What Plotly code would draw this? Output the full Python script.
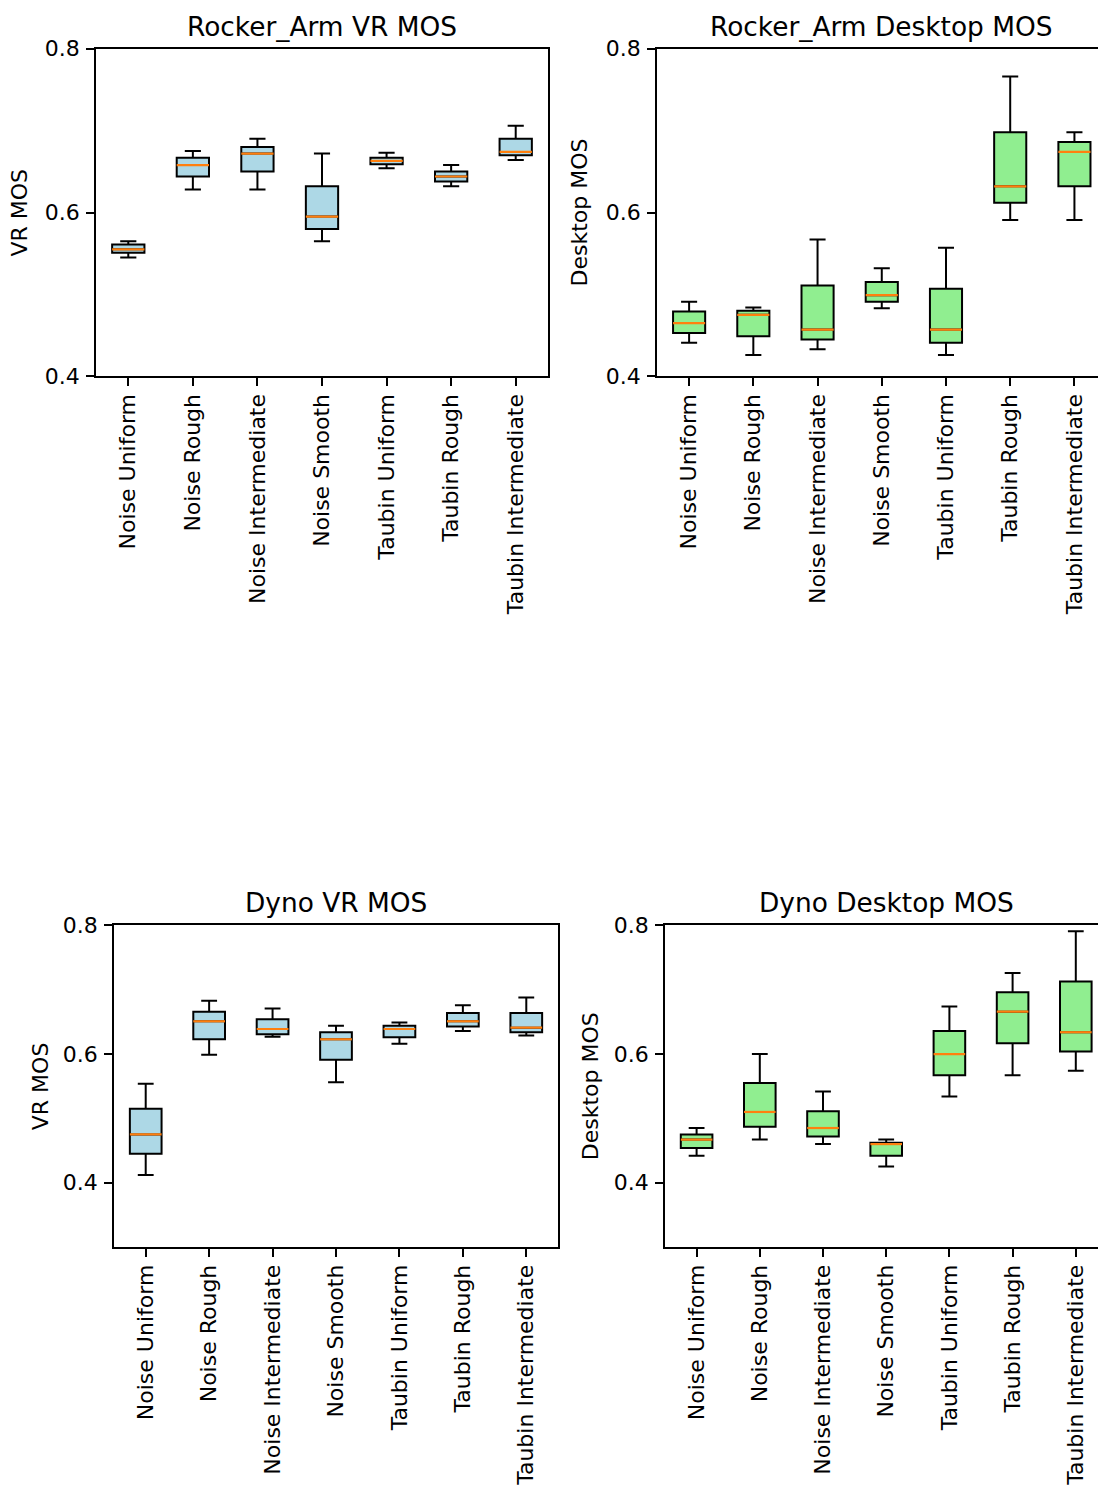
import plotly.graph_objects as go

W, H = 1098, 1487

categories = ["Noise Uniform", "Noise Rough", "Noise Intermediate", "Noise Smooth",
              "Taubin Uniform", "Taubin Rough", "Taubin Intermediate"]
positions = [1, 2, 3, 4, 5, 6, 7]

# Rocker_Arm, VR ratings
rocker_vr_low = [0.545, 0.628, 0.628, 0.565, 0.654, 0.632, 0.664]
rocker_vr_q1 = [0.551, 0.644, 0.650, 0.580, 0.659, 0.638, 0.670]
rocker_vr_med = [0.555, 0.658, 0.672, 0.595, 0.663, 0.644, 0.674]
rocker_vr_q3 = [0.561, 0.667, 0.680, 0.632, 0.667, 0.650, 0.690]
rocker_vr_high = [0.565, 0.675, 0.690, 0.672, 0.673, 0.658, 0.706]

# Rocker_Arm, desktop ratings
rocker_dt_low = [0.441, 0.426, 0.433, 0.483, 0.426, 0.591, 0.591]
rocker_dt_q1 = [0.453, 0.449, 0.445, 0.491, 0.441, 0.612, 0.632]
rocker_dt_med = [0.465, 0.475, 0.457, 0.499, 0.457, 0.632, 0.674]
rocker_dt_q3 = [0.479, 0.480, 0.511, 0.515, 0.507, 0.698, 0.686]
rocker_dt_high = [0.491, 0.484, 0.567, 0.532, 0.557, 0.766, 0.698]

# Dyno, VR ratings
dyno_vr_low = [0.412, 0.599, 0.627, 0.556, 0.616, 0.636, 0.629]
dyno_vr_q1 = [0.445, 0.623, 0.631, 0.591, 0.626, 0.643, 0.634]
dyno_vr_med = [0.475, 0.651, 0.639, 0.623, 0.639, 0.651, 0.641]
dyno_vr_q3 = [0.515, 0.666, 0.654, 0.634, 0.644, 0.664, 0.664]
dyno_vr_high = [0.554, 0.683, 0.671, 0.644, 0.649, 0.676, 0.688]

# Dyno, desktop ratings
dyno_dt_low = [0.442, 0.467, 0.460, 0.425, 0.534, 0.567, 0.574]
dyno_dt_q1 = [0.454, 0.487, 0.472, 0.442, 0.567, 0.617, 0.604]
dyno_dt_med = [0.467, 0.510, 0.485, 0.460, 0.600, 0.666, 0.634]
dyno_dt_q3 = [0.475, 0.555, 0.511, 0.462, 0.636, 0.696, 0.713]
dyno_dt_high = [0.485, 0.600, 0.542, 0.467, 0.674, 0.726, 0.791]

VR_FILL = "#add8e6"
DT_FILL = "#90ee90"
MEDIAN_COLOR = "#ff7f0e"
FONT = "DejaVu Sans"


def px_x(v):
    return v / W


def px_y(v):
    return 1 - v / H


fig = go.Figure()

# axis suffix, data, fill, x-domain px, y-domain px (top, bottom), x range, y range,
# title, y label, title centre x, y-label centre x
panels = [
    ("", (rocker_vr_low, rocker_vr_q1, rocker_vr_med, rocker_vr_q3, rocker_vr_high), VR_FILL,
     (96, 548), (37.4, 370.5), [0.5, 7.5], [0.4, 0.8], "Rocker_Arm VR MOS", "VR MOS", 322, 20),
    ("2", (rocker_dt_low, rocker_dt_q1, rocker_dt_med, rocker_dt_q3, rocker_dt_high), DT_FILL,
     (657, 1098), (37.4, 370.5), [0.5, 0.5 + 441 / 64.22], [0.4, 0.8], "Rocker_Arm Desktop MOS", "Desktop MOS", 881, 580),
    ("3", (dyno_vr_low, dyno_vr_q1, dyno_vr_med, dyno_vr_q3, dyno_vr_high), VR_FILL,
     (114, 558), (929.1, 1256.1), [0.5, 7.5], [0.3, 0.8], "Dyno VR MOS", "VR MOS", 336, 40),
    ("4", (dyno_dt_low, dyno_dt_q1, dyno_dt_med, dyno_dt_q3, dyno_dt_high), DT_FILL,
     (665, 1098), (929.1, 1256.1), [0.5, 0.5 + 433 / 63.2], [0.3, 0.8], "Dyno Desktop MOS", "Desktop MOS", 886, 590),
]

annotations = []
layout_axes = {}

for suffix, (lo, q1, med, q3, hi), fill, xd, yd, xr, yr, title, ylab, tx, lx in panels:
    xa = "x" + suffix
    ya = "y" + suffix
    fig.add_trace(go.Box(
        x=positions, q1=q1, median=med, q3=q3, lowerfence=lo, upperfence=hi,
        width=0.5, whiskerwidth=0.5, boxpoints=False,
        fillcolor=fill, line=dict(color="black", width=2),
        xaxis=xa, yaxis=ya, showlegend=False, hoverinfo="skip",
    ))
    mx, my = [], []
    for p, m in zip(positions, med):
        mx += [p - 0.25, p + 0.25, None]
        my += [m, m, None]
    fig.add_trace(go.Scatter(
        x=mx, y=my, mode="lines", line=dict(color=MEDIAN_COLOR, width=2.2),
        xaxis=xa, yaxis=ya, showlegend=False, hoverinfo="skip",
    ))

    right_cut = xd[1] >= W
    layout_axes["xaxis" + suffix] = dict(
        domain=[px_x(xd[0]), px_x(xd[1])], range=xr, anchor=ya,
        tickmode="array", tickvals=positions, ticktext=categories, tickangle=-90,
        ticks="outside", ticklen=8, tickwidth=1.8, tickcolor="black",
        ticklabelstandoff=-1,
        showline=True, linecolor="black", linewidth=1.8, mirror=True,
        showgrid=False, zeroline=False,
        tickfont=dict(family=FONT, size=22, color="black"),
    )
    layout_axes["yaxis" + suffix] = dict(
        domain=[px_y(yd[1]), px_y(yd[0])], range=yr, anchor=xa,
        tickmode="array", tickvals=[0.4, 0.6, 0.8], ticktext=["0.4", "0.6", "0.8"],
        ticks="outside", ticklen=8, tickwidth=1.8, tickcolor="black",
        ticklabelstandoff=2,
        showline=True, linecolor="black", linewidth=1.8, mirror=not right_cut,
        showgrid=False, zeroline=False,
        tickfont=dict(family=FONT, size=22, color="black"),
    )
    annotations.append(dict(
        text=title, x=px_x(tx), y=px_y(yd[0] - 23), xref="paper", yref="paper",
        xanchor="center", yanchor="middle", showarrow=False,
        font=dict(family=FONT, size=26.4, color="black"),
    ))
    annotations.append(dict(
        text=ylab, x=px_x(lx), y=px_y((yd[0] + yd[1]) / 2), xref="paper", yref="paper",
        xanchor="center", yanchor="middle", textangle=-90, showarrow=False,
        font=dict(family=FONT, size=22, color="black"),
    ))

fig.update_layout(
    width=W, height=H,
    margin=dict(l=0, r=0, t=0, b=0),
    paper_bgcolor="white", plot_bgcolor="white",
    boxmode="overlay",
    annotations=annotations,
    **layout_axes,
)

fig.write_html("out.html")
